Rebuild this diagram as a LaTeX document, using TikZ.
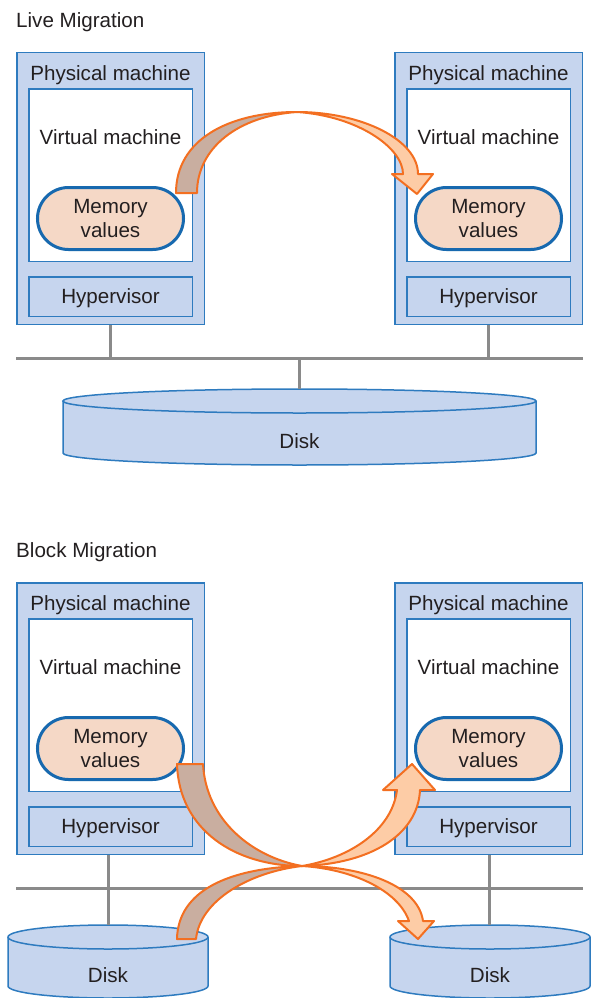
\documentclass[tikz,border=0pt]{standalone}
\usepackage{fontspec}
\setmainfont{Liberation Sans}
\usetikzlibrary{positioning}
\definecolor{ink}{HTML}{231F20}
\definecolor{boxblue}{HTML}{C6D5EE}
\definecolor{edgeblue}{HTML}{2E7BBF}
\definecolor{memblue}{HTML}{1769AF}
\definecolor{mempeach}{HTML}{F5D8C6}
\definecolor{netgray}{HTML}{8A8A8A}
\definecolor{flowline}{HTML}{F36F21}
\definecolor{flowback}{HTML}{C9AEA0}
\definecolor{flowfront}{HTML}{FDCCA6}

\begin{document}
\begin{tikzpicture}
[x=1pt,y=-1pt,
 every node/.style={font=\fontsize{20.6}{24}\selectfont,text=ink,inner sep=0pt,text depth=0pt},
 pm/.style={draw=edgeblue,fill=boxblue,line width=1.5pt,minimum width=187.5pt,minimum height=271.5pt},
 vm/.style={draw=edgeblue,fill=white,line width=1.5pt,minimum width=163.5pt,minimum height=172.5pt},
 hyp/.style={draw=edgeblue,fill=boxblue,line width=1.5pt,minimum width=163.5pt,minimum height=39.5pt},
 mem/.style={draw=memblue,fill=mempeach,line width=3pt,rounded corners=31pt,minimum width=146pt,minimum height=62pt,align=center},
 net/.style={draw=netgray,line width=3pt},
 diskbody/.style={draw=edgeblue,fill=boxblue,line width=1.5pt},
 backside/.style={draw=flowline,fill=flowback,line width=2pt,line join=round},
 frontside/.style={draw=flowline,fill=flowfront,line width=2pt,line join=round}]

\useasboundingbox (0,0) rectangle (590,998);

% live migration
\node[anchor=west] (titleA) at (16,20) {Live Migration};

\node[pm] (pmA) at (110.5,188.5) {};
\node (pmAt) at (110.5,73) {Physical machine};
\node[vm] (vmA) at (110.5,175) {};
\node (vmAt) at (110.5,137) {Virtual machine};
\node[mem] (memA) at (110.5,218.5) {Memory\\values};
\node[hyp] (hypA) at (110.5,296.5) {Hypervisor};

\node[pm] (pmB) at (488.5,188.5) {};
\node (pmBt) at (488.5,73) {Physical machine};
\node[vm] (vmB) at (488.5,175) {};
\node (vmBt) at (488.5,137) {Virtual machine};
\node[mem] (memB) at (488.5,218.5) {Memory\\values};
\node[hyp] (hypB) at (488.5,296.5) {Hypervisor};

\coordinate (netAl) at (16,358);
\coordinate (netAr) at (583,358);
\coordinate (diskAtop) at (299.5,389);

\filldraw[diskbody] (63,401) -- (63,453) arc[start angle=180,end angle=0,x radius=236.5,y radius=12] -- (536,401);
\filldraw[diskbody] (299.5,401) ellipse[x radius=236.5,y radius=12];
\node (diskA) at (299.5,441) {Disk};

\draw[net] (netAl) -- (netAr);
\draw[net] (pmA.south) -- (pmA.south |- netAl);
\draw[net] (pmB.south) -- (pmB.south |- netAl);
\draw[net] (diskAtop |- netAl) -- (diskAtop);

\filldraw[backside] (176,193) .. controls (176,140) and (228,112) .. (297,112)
  .. controls (238,116) and (197,148) .. (197,193) -- cycle;
\filldraw[frontside] (297,112) .. controls (362,112) and (418,140) .. (418,174)
  -- (433,174) -- (417,194) -- (392,174) -- (403,174)
  .. controls (403,148) and (358,116) .. (297,112) -- cycle;

% block migration
\node[anchor=west] (titleB) at (16,550) {Block Migration};

\node[pm] (pmC) at (110.5,718.5) {};
\node (pmCt) at (110.5,603) {Physical machine};
\node[vm] (vmC) at (110.5,705) {};
\node (vmCt) at (110.5,667) {Virtual machine};
\node[mem] (memC) at (110.5,748.5) {Memory\\values};
\node[hyp] (hypC) at (110.5,826.5) {Hypervisor};

\node[pm] (pmD) at (488.5,718.5) {};
\node (pmDt) at (488.5,603) {Physical machine};
\node[vm] (vmD) at (488.5,705) {};
\node (vmDt) at (488.5,667) {Virtual machine};
\node[mem] (memD) at (488.5,748.5) {Memory\\values};
\node[hyp] (hypD) at (488.5,826.5) {Hypervisor};

\coordinate (netBl) at (16,888);
\coordinate (netBr) at (583,888);
\coordinate (diskCtop) at (108.5,925);
\coordinate (diskDtop) at (489.5,925);

\filldraw[diskbody] (8,937) -- (8,986) arc[start angle=180,end angle=0,x radius=100,y radius=12] -- (208,937);
\filldraw[diskbody] (108,937) ellipse[x radius=100,y radius=12];
\node (diskC) at (108,975) {Disk};

\filldraw[diskbody] (390,937) -- (390,986) arc[start angle=180,end angle=0,x radius=100,y radius=12] -- (590,937);
\filldraw[diskbody] (490,937) ellipse[x radius=100,y radius=12];
\node (diskD) at (490,975) {Disk};

\draw[net] (netBl) -- (netBr);
\draw[net] (pmC.south -| diskCtop) -- (diskCtop);
\draw[net] (pmD.south -| diskDtop) -- (diskDtop);

\filldraw[backside] (177,764) .. controls (179,830) and (235,866) .. (302,866)
  .. controls (252,857) and (206,820) .. (203,764) -- cycle;
\filldraw[frontside] (302,866) .. controls (362,866) and (418,885) .. (423,921)
  -- (434,921) -- (418,939) -- (398,921) -- (409,921)
  .. controls (398,890) and (352,869) .. (302,866) -- cycle;

\filldraw[backside] (177,939) .. controls (178,890) and (230,868) .. (302,866)
  .. controls (250,872) and (200,900) .. (196,939) -- cycle;
\filldraw[frontside] (302,866) .. controls (370,864) and (418,835) .. (420,790)
  -- (435,790) -- (412,764) -- (383,790) -- (397,790)
  .. controls (392,830) and (350,858) .. (302,866) -- cycle;
\end{tikzpicture}
\end{document}
